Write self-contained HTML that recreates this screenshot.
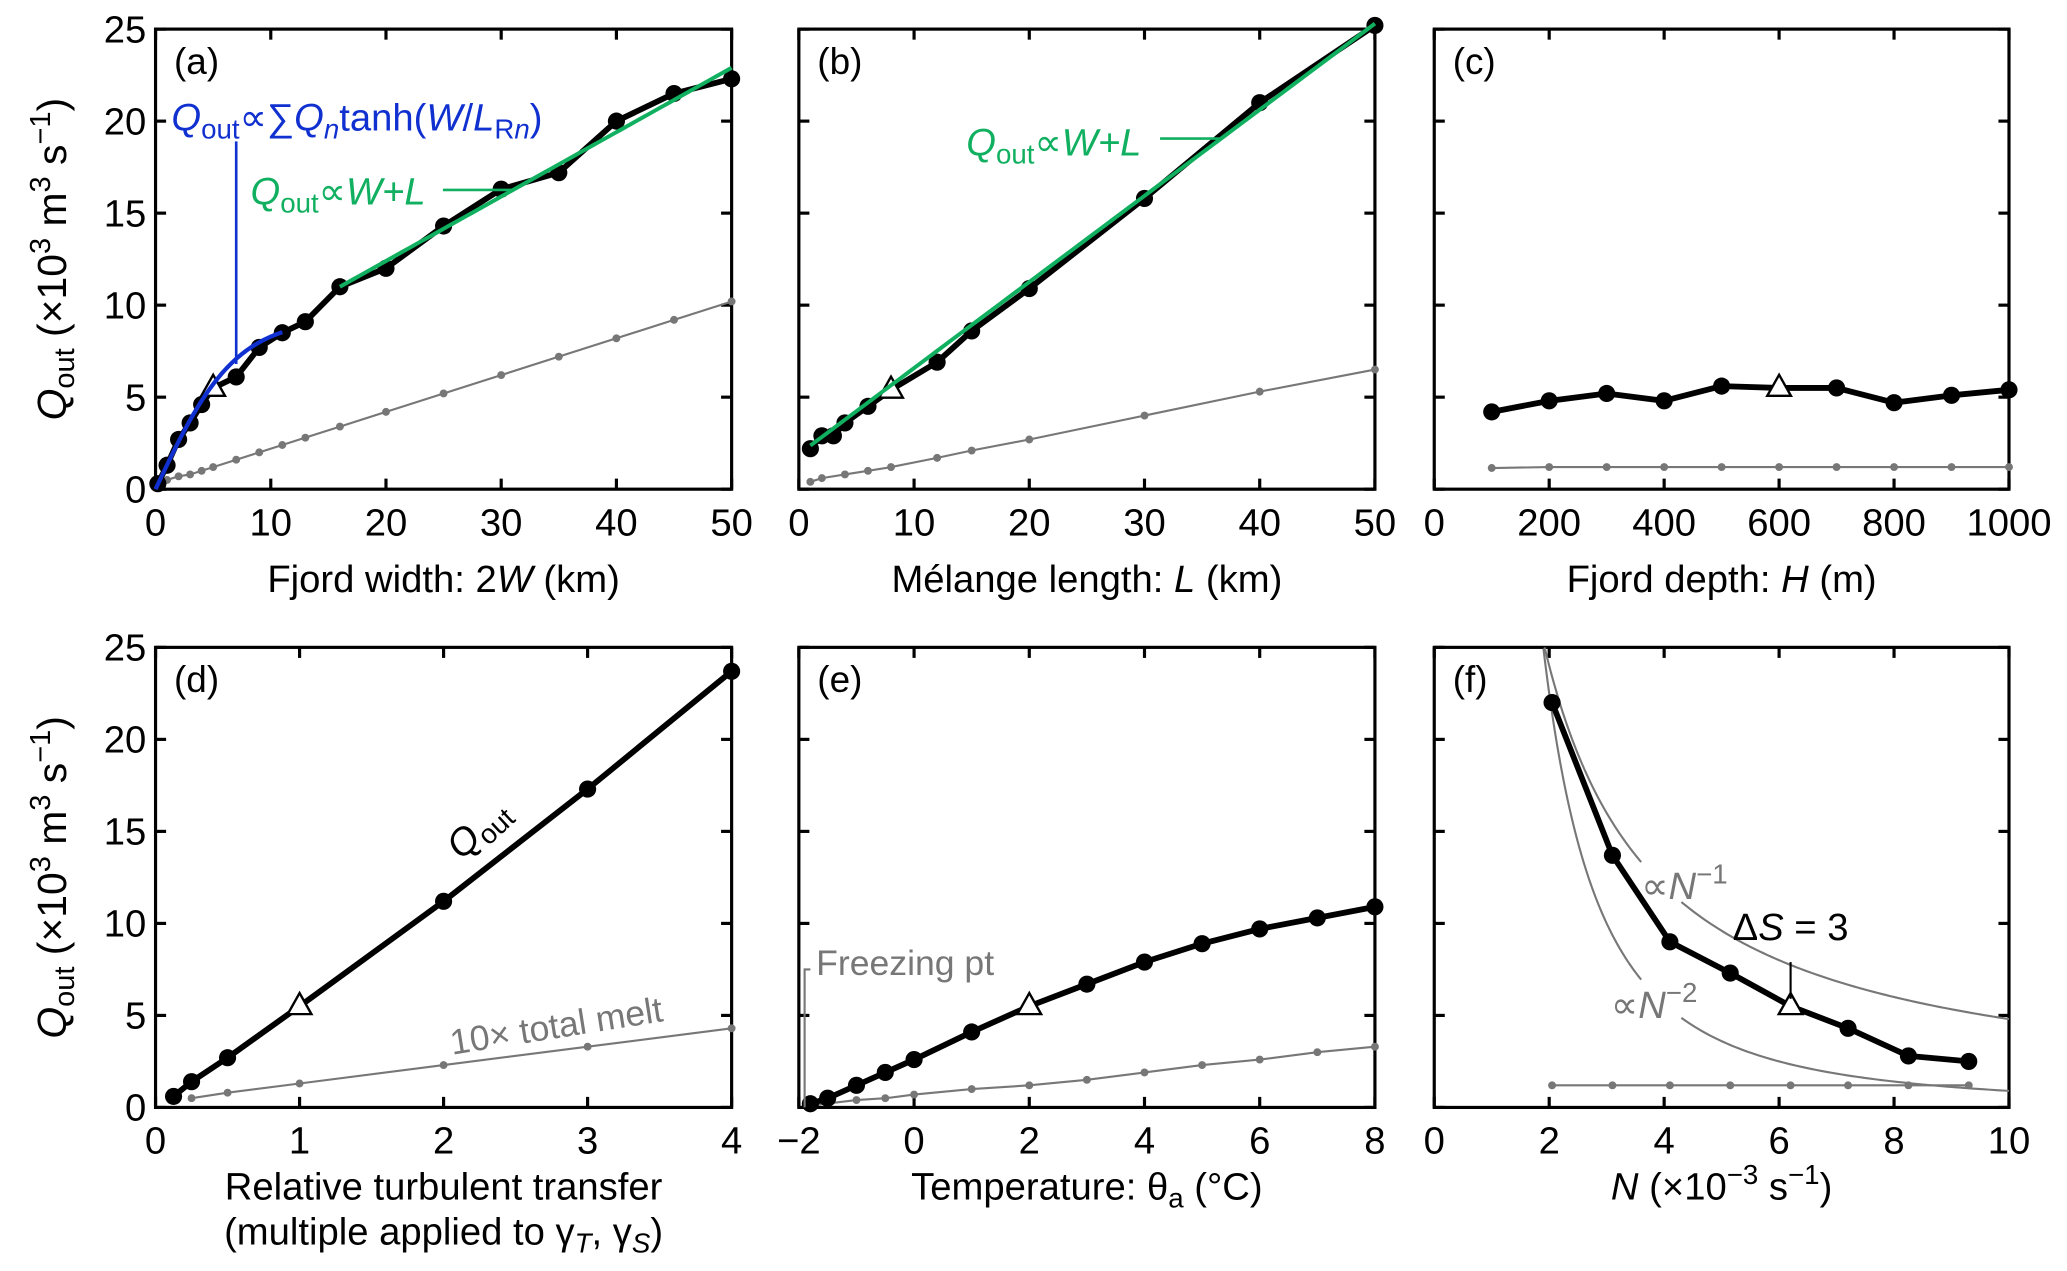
<!DOCTYPE html>
<html><head><meta charset="utf-8"><style>
html,body{margin:0;padding:0;background:#fff}
svg{display:block}
text{font-family:"Liberation Sans","DejaVu Sans",sans-serif}
</style></head><body>
<svg id="fig" xmlns="http://www.w3.org/2000/svg" width="2067" height="1271" viewBox="0 0 1568 964"></svg>
<script>
// ---- data ----
const aX=[0.2,1,2,3,4,5,7,9,11,13,16,20,25,30,35,40,45,50];
const aY=[0.3,1.3,2.7,3.6,4.6,5.5,6.1,7.7,8.5,9.1,11,12,14.3,16.3,17.2,20,21.5,22.3];
const aGX=[0.2,1,2,3,4,5,7,9,11,13,16,20,25,30,35,40,45,50];
const aGY=[0.2,0.5,0.7,0.8,1.0,1.2,1.6,2.0,2.4,2.8,3.4,4.2,5.2,6.2,7.2,8.2,9.2,10.2];
const bX=[1,2,3,4,6,8,12,15,20,30,40,50];
const bY=[2.2,2.9,2.9,3.6,4.5,5.4,6.9,8.6,10.9,15.8,21,25.2];
const bGX=[1,2,4,6,8,12,15,20,30,40,50];
const bGY=[0.4,0.6,0.8,1.0,1.2,1.7,2.1,2.7,4.0,5.3,6.5];
const cX=[100,200,300,400,500,600,700,800,900,1000];
const cY=[4.2,4.8,5.2,4.8,5.6,5.5,5.5,4.7,5.1,5.4];
const cGY=[1.15,1.2,1.2,1.2,1.2,1.2,1.2,1.2,1.2,1.2];
const dX=[0.125,0.25,0.5,1,2,3,4];
const dY=[0.6,1.4,2.7,5.5,11.2,17.3,23.7];
const dGX=[0.25,0.5,1,2,3,4];
const dGY=[0.5,0.8,1.3,2.3,3.3,4.3];
const eX=[-1.8,-1.5,-1,-0.5,0,1,2,3,4,5,6,7,8];
const eY=[0.2,0.5,1.2,1.9,2.6,4.1,5.5,6.7,7.9,8.9,9.7,10.3,10.9];
const eGX=[-1.8,-1,-0.5,0,1,2,3,4,5,6,7,8];
const eGY=[0.1,0.4,0.5,0.7,1.0,1.2,1.5,1.9,2.3,2.6,3.0,3.3];
const fX=[2.05,3.1,4.1,5.15,6.2,7.2,8.25,9.3];
const fY=[22,13.7,9,7.3,5.5,4.3,2.8,2.5];
const fGY=[1.2,1.2,1.2,1.2,1.2,1.2,1.2,1.2];
const yTicks=[0,5,10,15,20,25];

const NS="http://www.w3.org/2000/svg";
const svg=document.getElementById('fig');
function el(tag,attrs,parent){const e=document.createElementNS(NS,tag);for(const k in attrs)e.setAttribute(k,attrs[k]);(parent||svg).appendChild(e);return e;}
function txt(s,attrs,parent){const e=el('text',attrs,parent);e.textContent=s;return e;}

function panel(name,x0,y0,x1,y1,xmin,xmax,xticks,showY){
  const g=el('g',{});
  
  
  const sx=v=>x0+(v-xmin)/(xmax-xmin)*(x1-x0);
  const sy=v=>y1-(v/25)*(y1-y0);
  const fr=el('rect',{x:x0,y:y0,width:x1-x0,height:y1-y0,fill:'none',stroke:'#000','stroke-width':2.4},g);
  
  
  xticks.forEach(t=>{
    const X=sx(t);
    el('line',{x1:X,y1:y1,x2:X,y2:y1-8,stroke:'#000','stroke-width':2.4},g);
    el('line',{x1:X,y1:y0,x2:X,y2:y0+8,stroke:'#000','stroke-width':2.4},g);
    const lab=txt(String(t).replace('-','\u2212'),{x:X,y:y1+35,'font-size':29,'text-anchor':'middle'},g);
    
    
  });
  yTicks.forEach(t=>{
    const Y=sy(t);
    el('line',{x1:x0,y1:Y,x2:x0+8,y2:Y,stroke:'#000','stroke-width':2.4},g);
    el('line',{x1:x1,y1:Y,x2:x1-8,y2:Y,stroke:'#000','stroke-width':2.4},g);
    if(showY){const lab=txt(String(t),{x:x0-7,y:Y+10,'font-size':29,'text-anchor':'end'},g);
      
      }
  });
  return {g,sx,sy};
}
function series(p,xs,ys,black,triIdx,name){
  const pts=xs.map((x,i)=>p.sx(x)+','+p.sy(ys[i])).join(' ');
  const pl=el('polyline',{points:pts,fill:'none',stroke:black?'#000':'#777','stroke-width':black?4.4:1.6,'stroke-linejoin':'round'},p.g);
  
  
  xs.forEach((x,i)=>{
    const X=p.sx(x),Y=p.sy(ys[i]);
    if(i===triIdx){
      const t=el('polygon',{points:`${X},${Y-10} ${X-9},${Y+6} ${X+9},${Y+6}`,fill:'#fff',stroke:'#000','stroke-width':1.8},p.g);
      
      
    } else {
      const c=el('circle',{cx:X,cy:Y,r:black?6.5:3,fill:black?'#000':'#777'},p.g);
      
      
    }
  });
}
function curve(p,f,a,b,color,w,name){
  let d='';for(let i=0;i<=80;i++){const x=a+(b-a)*i/80;d+=(i?'L':'M')+p.sx(x)+','+p.sy(f(x));}
  const e=el('path',{d,fill:'none',stroke:color,'stroke-width':w},p.g);
  
  
  return e;
}
function plabel(p,s,x,y){const t=txt(s,{x,y,'font-size':28},p.g);}
function xlabel(html,x,y){const t=el('text',{x,y,'font-size':29,'text-anchor':'middle'});t.innerHTML=html;return t;}

const R1=[22,371],R2=[491,840];const C=[[118,555],[606,1043],[1088,1524]];
// (a)
const pa=panel('panel-a',C[0][0],R1[0],C[0][1],R1[1],0,50,[0,10,20,30,40,50],true);
series(pa,aGX,aGY,false,-1,'melt');
series(pa,aX,aY,true,5,'qout');
curve(pa,x=>9.3*Math.tanh(x/7),0,11,'#1030d0',3.2,'tanh-fit');
curve(pa,x=>11+(x-16)*(11.9/34),16,50,'#10b060',3,'linear-fit');
plabel(pa,'(a)',C[0][0]+14,R1[0]+34);
el('line',{x1:pa.sx(7),y1:pa.sy(18.9),x2:pa.sx(7),y2:pa.sy(6.8),stroke:'#1030d0','stroke-width':2},pa.g);
const ta=el('text',{x:130,y:99,'font-size':29,fill:'#1030d0'},pa.g);
ta.innerHTML='<tspan font-style="italic">Q</tspan><tspan font-size="21" dy="6">out</tspan><tspan dy="-6">∝∑</tspan><tspan font-style="italic">Q</tspan><tspan font-style="italic" font-size="21" dy="6">n</tspan><tspan dy="-6">tanh(</tspan><tspan font-style="italic">W</tspan>/<tspan font-style="italic">L</tspan><tspan font-size="21" dy="6">R</tspan><tspan font-size="21" font-style="italic">n</tspan><tspan dy="-6">)</tspan>';

const tg=el('text',{x:190,y:155,'font-size':29,fill:'#10b060'},pa.g);
tg.innerHTML='<tspan font-style="italic">Q</tspan><tspan font-size="21" dy="6">out</tspan><tspan dy="-6">∝</tspan><tspan font-style="italic">W+L</tspan>';

el('line',{x1:336,y1:144,x2:pa.sx(31),y2:144,stroke:'#10b060','stroke-width':2},pa.g);
xlabel('Fjord width: 2<tspan font-style="italic">W</tspan> (km)',(C[0][0]+C[0][1])/2,449);
// (b)
const pb=panel('panel-b',C[1][0],R1[0],C[1][1],R1[1],0,50,[0,10,20,30,40,50],false);
series(pb,bGX,bGY,false,-1,'melt');
series(pb,bX,bY,true,5,'qout');
curve(pb,x=>1.9+x*0.468,1,50,'#10b060',3,'linear-fit');
plabel(pb,'(b)',C[1][0]+14,R1[0]+34);
const tb=el('text',{x:733,y:118,'font-size':29,fill:'#10b060'},pb.g);
tb.innerHTML='<tspan font-style="italic">Q</tspan><tspan font-size="21" dy="6">out</tspan><tspan dy="-6">∝</tspan><tspan font-style="italic">W+L</tspan>';

el('line',{x1:880,y1:105,x2:pb.sx(36.5),y2:105,stroke:'#10b060','stroke-width':2},pb.g);
xlabel('Mélange length: <tspan font-style="italic">L</tspan> (km)',(C[1][0]+C[1][1])/2,449);
// (c)
const pc=panel('panel-c',C[2][0],R1[0],C[2][1],R1[1],0,1000,[0,200,400,600,800,1000],false);
series(pc,cX,cGY,false,-1,'melt');
series(pc,cX,cY,true,5,'qout');
plabel(pc,'(c)',C[2][0]+14,R1[0]+34);
xlabel('Fjord depth: <tspan font-style="italic">H</tspan> (m)',(C[2][0]+C[2][1])/2,449);
// (d)
const pd=panel('panel-d',C[0][0],R2[0],C[0][1],R2[1],0,4,[0,1,2,3,4],true);
series(pd,dGX,dGY,false,-1,'melt');
series(pd,dX,dY,true,3,'qout');
plabel(pd,'(d)',C[0][0]+14,R2[0]+34);
const tq=el('text',{x:0,y:0,'font-size':29,transform:'translate(350,653) rotate(-43)'},pd.g);
tq.innerHTML='<tspan font-style="italic">Q</tspan><tspan font-size="21" dy="6">out</tspan>';

const tm=txt('10× total melt',{x:0,y:0,'font-size':27,fill:'#777',transform:'translate(343,800) rotate(-9)'},pd.g);

xlabel('Relative turbulent transfer',(C[0][0]+C[0][1])/2,910);
xlabel('(multiple applied to γ<tspan font-style="italic" font-size="21" dy="6">T</tspan><tspan dy="-6">, γ</tspan><tspan font-style="italic" font-size="21" dy="6">S</tspan><tspan dy="-6">)</tspan>',(C[0][0]+C[0][1])/2,944);
// (e)
const pe=panel('panel-e',C[1][0],R2[0],C[1][1],R2[1],-2,8,[-2,0,2,4,6,8],false);
series(pe,eGX,eGY,false,-1,'melt');
series(pe,eX,eY,true,6,'qout');
plabel(pe,'(e)',C[1][0]+14,R2[0]+34);
el('polyline',{points:`${pe.sx(-1.9)},${pe.sy(0)} ${pe.sx(-1.9)},${pe.sy(7.5)} ${pe.sx(-1.8)},${pe.sy(7.5)}`,fill:'none',stroke:'#777','stroke-width':1.6},pe.g);
const fz=txt('Freezing pt',{x:pe.sx(-1.7),y:pe.sy(7.2),'font-size':27,fill:'#777'},pe.g);

xlabel('Temperature: θ<tspan font-size="21" dy="6">a</tspan><tspan dy="-6"> (°C)</tspan>',(C[1][0]+C[1][1])/2,910);
// (f)
const pf=panel('panel-f',C[2][0],R2[0],C[2][1],R2[1],0,10,[0,2,4,6,8,10],false);
curve(pf,x=>48/x,1.92,3.6,'#777',1.6,'inverse-n-curve');
curve(pf,x=>48/x,4.3,10,'#777',1.6,'inverse-n-curve');
curve(pf,x=>90/(x*x),1.9,3.6,'#777',1.6,'inverse-n2-curve');
curve(pf,x=>90/(x*x),4.3,10,'#777',1.6,'inverse-n2-curve');
series(pf,fX,fGY,false,-1,'melt');
series(pf,fX,fY,true,4,'qout');
plabel(pf,'(f)',C[2][0]+14,R2[0]+34);
const n1=el('text',{x:1245,y:682,'font-size':29,fill:'#777'},pf.g);
n1.innerHTML='∝<tspan font-style="italic">N</tspan><tspan font-size="21" dy="-12">−1</tspan>';

const n2=el('text',{x:1222,y:772,'font-size':29,fill:'#777'},pf.g);
n2.innerHTML='∝<tspan font-style="italic">N</tspan><tspan font-size="21" dy="-12">−2</tspan>';

el('line',{x1:pf.sx(6.2),y1:pf.sy(5.9),x2:pf.sx(6.2),y2:pf.sy(7.9),stroke:'#000','stroke-width':1.6},pf.g);
const ds=el('text',{x:pf.sx(6.2),y:pf.sy(9.1),'font-size':29,'text-anchor':'middle'},pf.g);
ds.innerHTML='Δ<tspan font-style="italic">S</tspan> = 3';

xlabel('<tspan font-style="italic">N</tspan> (×10<tspan font-size="21" dy="-12">−3</tspan><tspan dy="12"> s</tspan><tspan font-size="21" dy="-12">−1</tspan><tspan dy="12">)</tspan>',(C[2][0]+C[2][1])/2,910);
// y axis titles
[[R1],[R2]].forEach((r,i)=>{
  const cy=(r[0][0]+r[0][1])/2;
  const t=el('text',{x:0,y:0,'font-size':31,'text-anchor':'middle',transform:`translate(50,${cy}) rotate(-90)`});
  t.innerHTML='<tspan font-style="italic">Q</tspan><tspan font-size="22" dy="6">out</tspan><tspan dy="-6"> (×10</tspan><tspan font-size="22" dy="-12">3</tspan><tspan dy="12"> m</tspan><tspan font-size="22" dy="-12">3</tspan><tspan dy="12"> s</tspan><tspan font-size="22" dy="-12">−1</tspan><tspan dy="12">)</tspan>';
  
  
});
</script>
</body></html>
